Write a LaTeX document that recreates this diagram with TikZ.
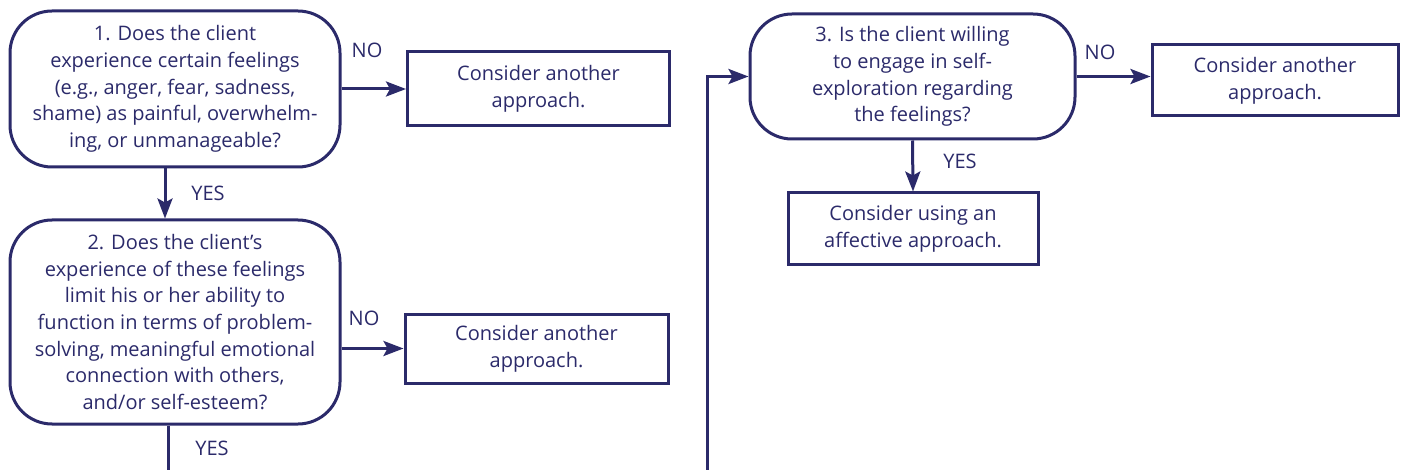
\documentclass[tikz,border=0pt]{standalone}
\usepackage{fontspec}
\setmainfont{Open Sans}
\usetikzlibrary{arrows.meta}
\definecolor{navy}{RGB}{43,42,106}

\begin{document}
\begin{tikzpicture}[x=1pt, y=-1pt,
    every node/.style={text=navy, font=\fontsize{20}{26.7}\selectfont},
    question/.style={draw=navy, line width=3pt, rounded corners=42pt, align=center, inner sep=0pt},
    answer/.style={draw=navy, line width=3pt, align=center, inner sep=0pt},
    arr/.style={draw=navy, line width=3pt, -{Stealth[length=20pt, width=15pt, inset=4pt]}},
    plain/.style={draw=navy, line width=3pt}]
    \useasboundingbox (0, 0) rectangle (1405, 470);
    % questions
    \node[question, minimum width=330pt, minimum height=156pt] (q1) at (175, 89)
        {1. Does the client\\ experience certain feelings\\ (e.g., anger, fear, sadness,\\ shame) as painful, overwhelm-\\ ing, or unmanageable?};
    \node[question, minimum width=330pt, minimum height=204pt] (q2) at (175, 322)
        {2. Does the client’s\\ experience of these feelings\\ limit his or her ability to\\ function in terms of problem-\\ solving, meaningful emotional\\ connection with others,\\ and/or self-esteem?};
    \node[question, minimum width=325pt, minimum height=125pt] (q3) at (912.5, 76.5)
        {3. Is the client willing\\ to engage in self-\\ exploration regarding\\ the feelings?};
    % outcomes
    \node[answer, minimum width=262pt, minimum height=74pt] (n1) at (538.5, 89) {Consider another\\ approach.};
    \node[answer, minimum width=263pt, minimum height=69pt] (n2) at (536.5, 348.5) {Consider another\\ approach.};
    \node[answer, minimum width=246pt, minimum height=71pt] (n3) at (1275, 80.5) {Consider another\\ approach.};
    \node[answer, minimum width=250pt, minimum height=72pt] (y3) at (913, 229) {Consider using an\\ affective approach.};
    % loose ends at the bottom
    \coordinate (bot2) at (168, 470);
    \coordinate (bot3) at (707, 470);
    % connectors
    \draw[arr] (q1) -- (n1);
    \draw[arr] ([xshift=-10pt]q1.south) -- ([xshift=-10pt]q2.north);
    \draw[arr] (q2.east |- n2) -- (n2);
    \draw[plain] (bot2 |- q2.south) -- (bot2);
    \draw[arr] (bot3) |- (q3.west);
    \draw[arr] (q3.east) -- (q3.east -| n3.west);
    \draw[arr] (q3.south) -- (y3.north);
    % labels
    \node (no1) at (367, 50) {NO};
    \node (no2) at (364, 318) {NO};
    \node (no3) at (1100, 52) {NO};
    \node (yes1) at (208, 193) {YES};
    \node (yes2) at (212, 448) {YES};
    \node (yes3) at (960, 161) {YES};
\end{tikzpicture}
\end{document}
